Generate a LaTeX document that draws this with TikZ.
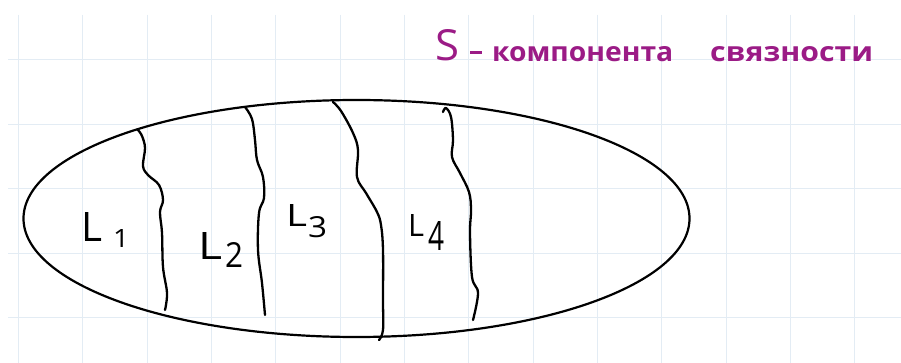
\documentclass[tikz,border=0pt]{standalone}
\usepackage{fontspec}
\usepackage{graphicx}
\usetikzlibrary{shapes.geometric}
\newfontfamily\handfont{Open Sans}
\definecolor{gridc}{HTML}{E3ECF4}
\definecolor{titlec}{HTML}{9B1B86}
\tikzset{
  gridline/.style={draw=gridc, line width=1pt},
  wave/.style={draw=black, line width=2.3pt, line cap=round, line join=round},
  outline/.style={draw=black, line width=2.2pt},
  lbl/.style={inner sep=0pt, font=\handfont, text=black},
  ttl/.style={inner sep=0pt, font=\handfont\bfseries, text=titlec},
}
\begin{document}
\begin{tikzpicture}[x=1pt,y=-1pt]
\useasboundingbox (0,0) rectangle (901,363);
\fill[white] (0,0) rectangle (901,363);
% grid
\foreach \gx in {18.3,82.7,147,211.3,275.7,340,404.3,468.6,533,597.3,661.6,726,790.3,854.6}
  \draw[gridline] (\gx,15) -- (\gx,363);
\foreach \gy in {60,124.3,188.6,253,317.3}
  \draw[gridline] (8,\gy) -- (901,\gy);
% ellipse
\node[outline, ellipse, minimum width=666pt, minimum height=237pt, inner sep=0pt] (E) at (356.5,218.5) {};
% wavy lines
\draw[wave] plot[smooth, tension=0.6] coordinates {(138,130) (142,136) (145,148) (143,166) (148,175) (159,185) (163,200) (160,212) (162,233) (163,267) (167,293) (165,310)};
\draw[wave] plot[smooth, tension=0.6] coordinates {(245,107) (252,119) (255,140) (257,160) (263,177) (264,198) (259,213) (258,250) (262,283) (265,315)};
\draw[wave] plot[smooth, tension=0.6] coordinates {(333,102) (341,111) (353,133) (358,150) (357,177) (366,193) (377,212) (381,225) (383,250) (383,300) (383,330) (379,340)};
\draw[wave] plot[smooth, tension=0.6] coordinates {(443,112) (446,108) (451,117) (453,140) (452,157) (460,173) (469,192) (471,210) (470,233) (472,277) (478,293) (473,320)};
% labels
\node[lbl, anchor=south west] (l1) at (81,242) {\resizebox{21pt}{29pt}{L}};
\node[lbl, anchor=south west] (s1) at (113,248) {\resizebox{16pt}{18pt}{1}};
\node[lbl, anchor=south west] (l2) at (198,260) {\resizebox{24pt}{27pt}{L}};
\node[lbl, anchor=south west] (s2) at (225,268) {\resizebox{18pt}{25pt}{2}};
\node[lbl, anchor=south west] (l3) at (286,227) {\resizebox{21pt}{22pt}{L}};
\node[lbl, anchor=south west] (s3) at (308,238) {\resizebox{19pt}{21pt}{3}};
\node[lbl, anchor=south west] (l4) at (408,237) {\resizebox{16pt}{22pt}{L}};
\node[lbl, anchor=south west] (s4) at (428,251) {\resizebox{16pt}{29pt}{4}};
% title
\node[ttl, font=\handfont, anchor=south west] (tS) at (435,61) {\resizebox{24pt}{31pt}{S}};
\node[ttl, anchor=south west] (tD) at (470,54) {\resizebox{12pt}{3pt}{\rule{1em}{0.2em}}};
\node[ttl, anchor=south west] (tK) at (492,62) {\resizebox{181pt}{15pt}{компонента}};
\node[ttl, anchor=south west] (tC) at (710,62) {\resizebox{163pt}{15pt}{связности}};
\end{tikzpicture}
\end{document}
